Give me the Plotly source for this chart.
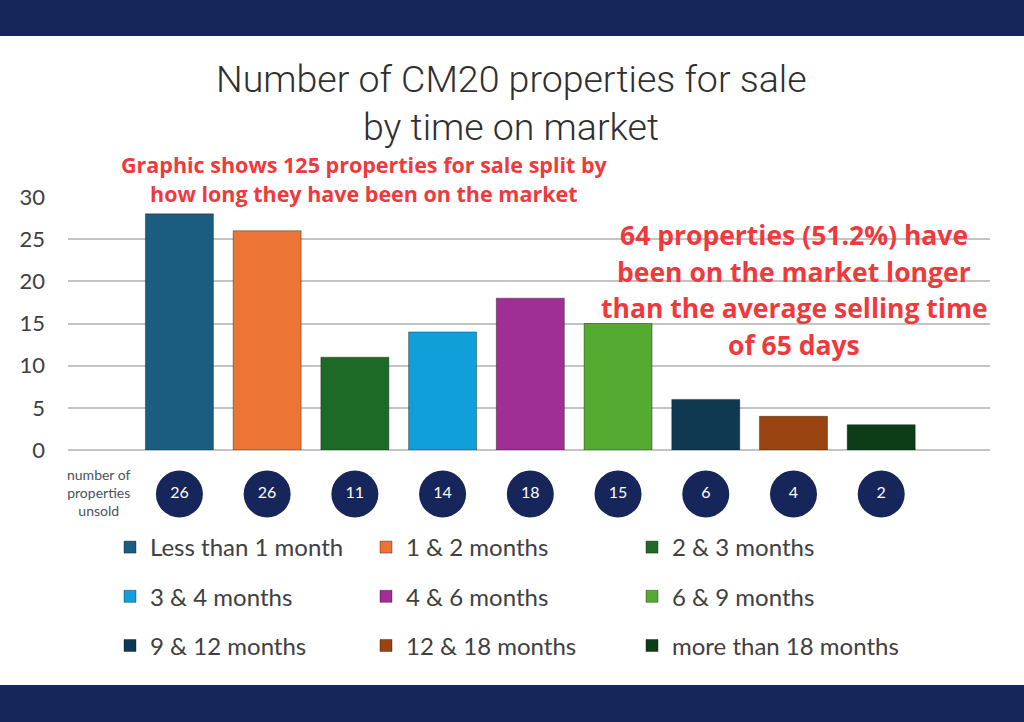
import plotly.graph_objects as go

# === DATA ===
categories = ["Less than 1 month", "1 & 2 months", "2 & 3 months",
              "3 & 4 months", "4 & 6 months", "6 & 9 months",
              "9 & 12 months", "12 & 18 months", "more than 18 months"]
bar_values = [28, 26, 11, 14, 18, 15, 6, 4, 3]
unsold_labels = ["26", "26", "11", "14", "18", "15", "6", "4", "2"]
bar_colors = ["#1a5d80", "#ec7434", "#1d6a27", "#119fda", "#a02f95",
              "#55aa32", "#0e3951", "#9a4412", "#0d3d17"]

title_lines = ["Number of CM20 properties for sale", "by time on market"]
note_lines = ["Graphic shows 125 properties for sale split by",
              "how long they have been on the market"]
callout_lines = ["64 properties (51.2%) have", "been on the market longer",
                 "than the average selling time", "of 65 days"]

navy = "#16255a"
grey_text = "#404040"
red = "#f0393c"

W, H = 1024, 722

def py(px_y):
    # pixel y (from top) -> paper fraction
    return 1 - px_y / H

def px(px_x):
    return px_x / W

legend_names = ["legend", "legend2", "legend3"]

fig = go.Figure()

for i, (cat, val, col) in enumerate(zip(categories, bar_values, bar_colors)):
    fig.add_trace(go.Bar(
        x=[i], y=[val], name=cat, width=0.775,
        marker=dict(color=col, line=dict(color="rgba(0,0,0,0.35)", width=1)),
        legend=legend_names[i % 3], legendgroup=cat,
        hoverinfo="name+y",
    ))

# circles with "number of properties unsold"
fig.add_trace(go.Scatter(
    x=list(range(len(categories))), y=[0.5] * len(categories),
    yaxis="y2", mode="markers+text", text=unsold_labels,
    marker=dict(size=47, color=navy),
    textfont=dict(color="white", size=16, family="Lato"),
    textposition="middle center", showlegend=False, hoverinfo="skip",
))

legend_style = dict(orientation="v", xanchor="left", yanchor="top", y=py(525),
                    font=dict(size=24, color=grey_text, family="Lato"),
                    tracegroupgap=15, itemwidth=30, bgcolor="rgba(0,0,0,0)")

fig.update_layout(
    width=W, height=H,
    margin=dict(l=0, r=0, t=0, b=0, autoexpand=False),
    paper_bgcolor="white", plot_bgcolor="white",
    barmode="overlay",
    font=dict(family="Lato", color=grey_text),
    xaxis=dict(range=[-1.27, 9.24], domain=[px(68), px(990)],
               showticklabels=False, showgrid=False,
               zeroline=False, fixedrange=True),
    yaxis=dict(range=[0, 30], dtick=5, domain=[py(450), py(197)],
               showgrid=True, gridcolor="#c4c4c4", gridwidth=1.5,
               zeroline=True, zerolinecolor="#c4c4c4", zerolinewidth=1.5,
               tickfont=dict(size=22, color=grey_text, family="Lato"),
               ticklabelstandoff=22, automargin=False),
    yaxis2=dict(range=[0, 1], domain=[py(520), py(468)], anchor="x",
                visible=False),
    legend=dict(x=px(110), **legend_style),
    legend2=dict(x=px(366), **legend_style),
    legend3=dict(x=px(632), **legend_style),
    shapes=[
        dict(type="rect", xref="paper", yref="paper", x0=0, x1=1,
             y0=py(36), y1=1.0, fillcolor=navy, line=dict(width=0), layer="above"),
        dict(type="rect", xref="paper", yref="paper", x0=0, x1=1,
             y0=0, y1=py(685), fillcolor=navy, line=dict(width=0), layer="above"),
    ],
)

title_font = dict(size=37.5, color="#2f2f2f", family="Roboto", weight=300)
note_font = dict(size=21.5, color=red, family="Open Sans", weight="bold")
callout_font = dict(size=26.5, color=red, family="Open Sans", weight="bold")

annotations = []
for line, y in zip(title_lines, [79, 127]):
    annotations.append(dict(text=line, x=px(511), y=py(y), font=title_font))
for line, y in zip(note_lines, [164, 193]):
    annotations.append(dict(text=line, x=px(364), y=py(y), font=note_font))
for line, y in zip(callout_lines, [235, 271.5, 308, 344.5]):
    annotations.append(dict(text=line, x=px(794), y=py(y), font=callout_font))
annotations.append(dict(text="number of<br>properties<br>unsold",
                        x=px(99), y=py(492), font=dict(size=14, color="#4a5260", family="Lato")))

for a in annotations:
    fig.add_annotation(xref="paper", yref="paper", xanchor="center", yanchor="middle",
                       showarrow=False, borderpad=0, **a)

fig.write_html("out.html", config={"displayModeBar": False},
               post_script="document.body.style.margin='0';")
